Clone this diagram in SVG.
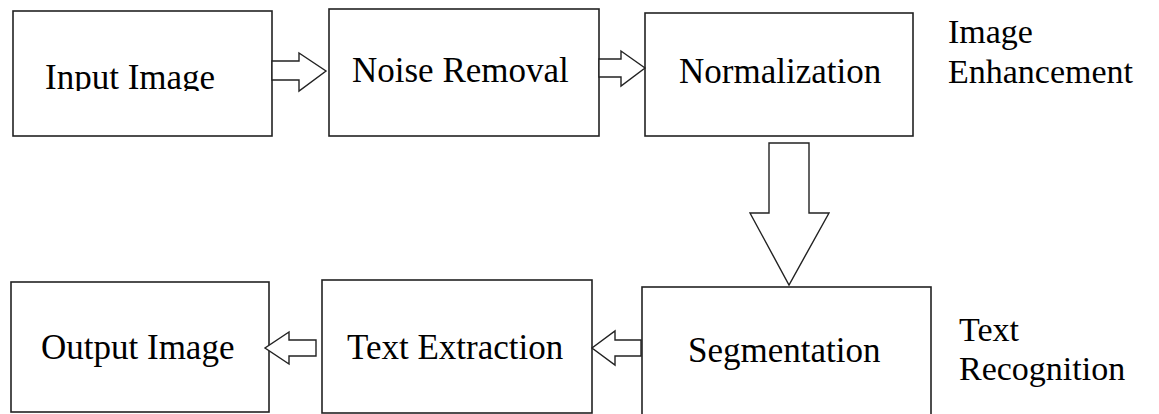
<svg xmlns="http://www.w3.org/2000/svg" width="1159" height="414" viewBox="0 0 1159 414">
<style>
.box{fill:#fff;stroke:#222;stroke-width:1.6}
.arr{fill:#fff;stroke:#222;stroke-width:1.4;stroke-linejoin:miter}
.t{font-family:'Liberation Serif','DejaVu Serif',serif;font-size:35px;fill:#000}
.lbl{font-family:'Liberation Serif','DejaVu Serif',serif;font-size:34px;fill:#000}
</style>
<defs>
<clipPath id="clipInput"><rect x="13" y="11" width="259" height="80"/></clipPath>
</defs>
<rect width="1159" height="414" fill="#fff"/>
<g id="input-image">
<rect class="box" x="13" y="11" width="259" height="125"/>
<text class="t" x="45" y="89" clip-path="url(#clipInput)">Input Image</text>
</g>
<g id="noise-removal">
<rect class="box" x="329" y="9" width="270" height="127"/>
<text class="t" x="352" y="82">Noise Removal</text>
</g>
<g id="normalization">
<rect class="box" x="645" y="13" width="268" height="123"/>
<text class="t" x="679" y="83">Normalization</text>
</g>
<g id="output-image">
<rect class="box" x="11" y="282" width="258" height="130"/>
<text class="t" x="41" y="359">Output Image</text>
</g>
<g id="text-extraction">
<rect class="box" x="322" y="280" width="270" height="133"/>
<text class="t" x="347" y="359">Text Extraction</text>
</g>
<g id="segmentation">
<rect class="box" x="642" y="287" width="289" height="130"/>
<text class="t" x="688" y="362">Segmentation</text>
</g>
<g id="labels">
<text class="lbl" x="948" y="43">Image</text>
<text class="lbl" x="948" y="83">Enhancement</text>
<text class="lbl" x="959" y="341">Text</text>
<text class="lbl" x="959" y="380">Recognition</text>
</g>
<g id="connectors">
<polygon class="arr" points="272,61 299,61 299,53 326,71 299,91 299,80 272,80"/>
<polygon class="arr" points="599,59 621,59 621,51 645,68 621,86 621,77 599,77"/>
<polygon class="arr" points="769,143 809,143 809,213 829,213 789,285 750,213 769,213"/>
<polygon class="arr" points="641,340 615,340 615,331 592,348 615,365 615,356 641,356"/>
<polygon class="arr" points="316,340 289,340 289,332 265,348 289,364 289,356 316,356"/>
</g>
</svg>
